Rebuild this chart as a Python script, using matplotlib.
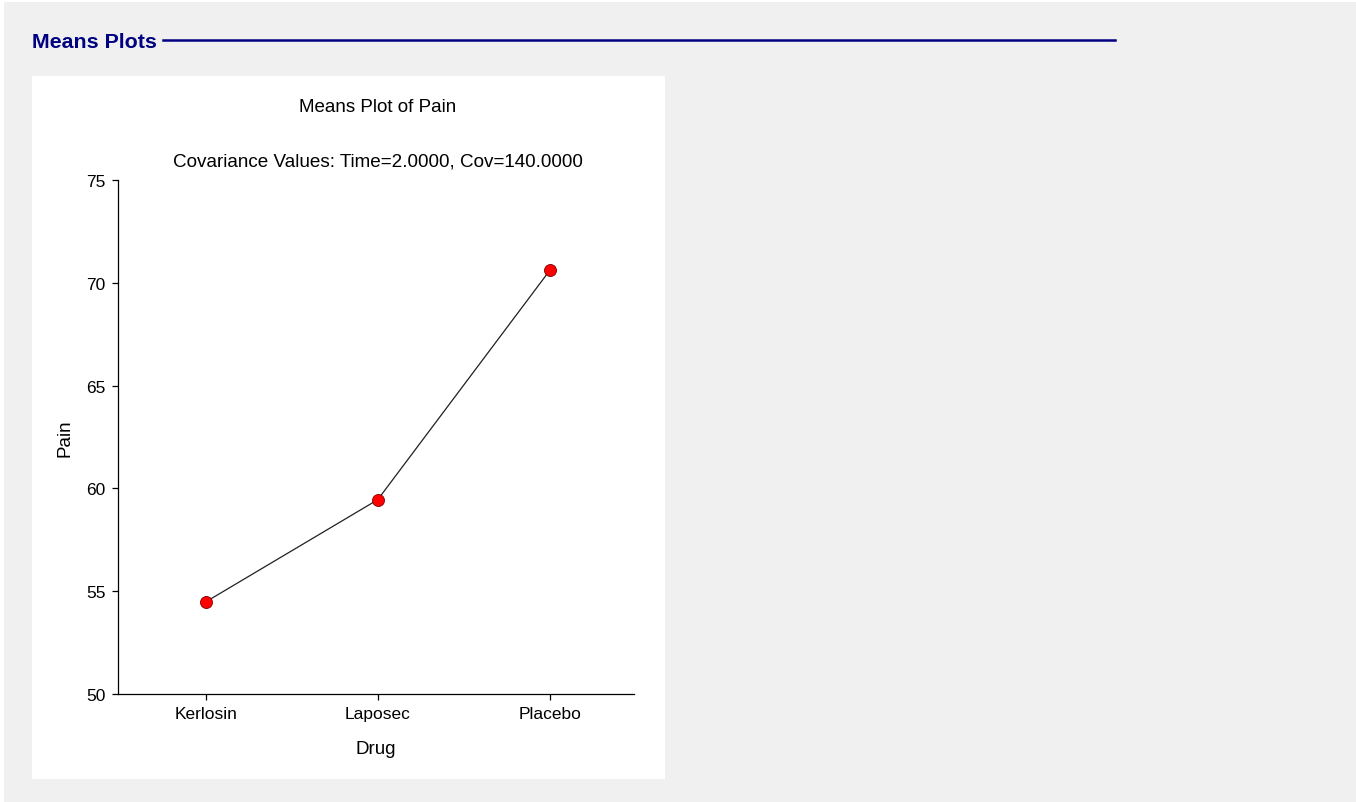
import matplotlib.pyplot as plt
from matplotlib.patches import Rectangle
from matplotlib.lines import Line2D

plt.rcParams['font.family'] = ['Liberation Sans', 'DejaVu Sans']

# Data
drugs = ['Kerlosin', 'Laposec', 'Placebo']
pain_means = [54.48, 59.45, 70.6]

W, H = 1356, 803
fig = plt.figure(figsize=(W / 100, H / 100), dpi=100)
fig.patch.set_facecolor('white')

# gray page background and white chart panel
fig.patches.append(Rectangle((4 / W, 0), 1 - 4 / W, 1 - 3 / H, transform=fig.transFigure,
                             facecolor='#f0f0f0', edgecolor='none', zorder=0))
fig.patches.append(Rectangle((32 / W, 1 - 780 / H), (665 - 32) / W, (780 - 77) / H,
                             transform=fig.transFigure, facecolor='white', edgecolor='none', zorder=1))

# section header
fig.text(32 / W, 1 - 43 / H, 'Means Plots', fontsize=15.4, fontweight='bold', color='#000080',
         ha='left', va='center')
fig.lines.append(Line2D([163 / W, 1115 / W], [1 - 41 / H, 1 - 41 / H], transform=fig.transFigure,
                        color='#000080', linewidth=1.8))

ax = fig.add_axes([118 / W, 1 - 695 / H, (634 - 118) / W, (695 - 181) / H])
ax.set_facecolor('white')
ax.set_zorder(2)
x = list(range(len(drugs)))
ax.plot(x, pain_means, color='#202020', linewidth=0.9, zorder=2)
ax.scatter(x, pain_means, s=75, color='#ff0000', edgecolor='#800000', linewidth=0.6, zorder=3)

ax.set_xlim(-0.51, 2.49)
ax.set_ylim(50, 75)
ax.set_yticks([50, 55, 60, 65, 70, 75])
ax.set_xticks(x)
ax.set_xticklabels(drugs)
for s in ['top', 'right']:
    ax.spines[s].set_visible(False)
for s in ['left', 'bottom']:
    ax.spines[s].set_linewidth(0.9)
ax.tick_params(axis='both', labelsize=12.5, length=4, width=0.9, direction='out', pad=5)
ax.set_xlabel('Drug', fontsize=13.5, labelpad=13)
ax.set_ylabel('Pain', fontsize=13.5, labelpad=9)

fig.text(378 / W, 1 - 108 / H, 'Means Plot of Pain', fontsize=13.5, ha='center', va='center')
fig.text(378 / W, 1 - 162 / H, 'Covariance Values: Time=2.0000, Cov=140.0000', fontsize=13.6,
         ha='center', va='center')

fig.savefig('out.png', dpi=100)
